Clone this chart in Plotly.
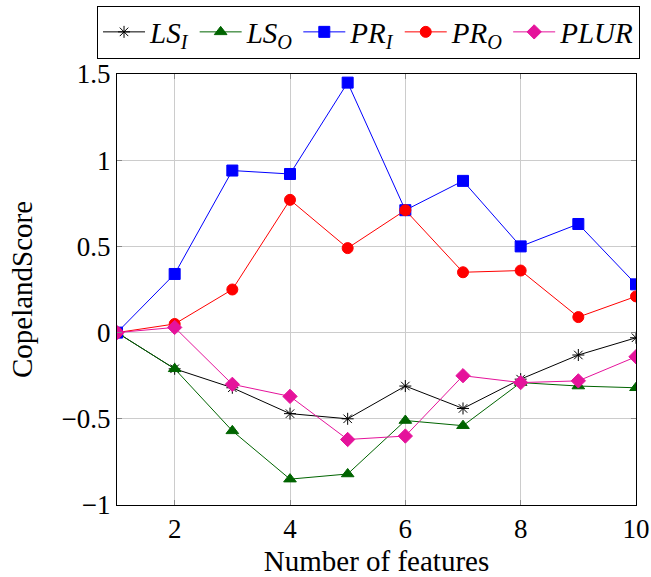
import plotly.graph_objects as go

x_features = [1, 2, 3, 4, 5, 6, 7, 8, 9, 10]
ls_i = [0, -0.21, -0.32, -0.47, -0.50, -0.31, -0.44, -0.27, -0.13, -0.03]
ls_o = [0, -0.21, -0.57, -0.85, -0.82, -0.51, -0.54, -0.29, -0.31, -0.32]
pr_i = [0, 0.34, 0.94, 0.92, 1.45, 0.71, 0.88, 0.50, 0.63, 0.28]
pr_o = [0, 0.05, 0.25, 0.77, 0.49, 0.71, 0.35, 0.36, 0.09, 0.21]
plur = [0, 0.03, -0.30, -0.37, -0.62, -0.60, -0.25, -0.29, -0.28, -0.14]

y_tickvals = [-1, -0.5, 0, 0.5, 1, 1.5]
y_ticktext = ["\u22121", "\u22120.5", "0", "0.5", "1", "1.5"]
x_tickvals = [2, 4, 6, 8, 10]

series = [
    ("<i>LS</i><sub><i>I</i></sub>", ls_i, "black", "asterisk-open", 10),
    ("<i>LS</i><sub><i>O</i></sub>", ls_o, "#006400", "triangle-up", 11),
    ("<i>PR</i><sub><i>I</i></sub>", pr_i, "blue", "square", 11),
    ("<i>PR</i><sub><i>O</i></sub>", pr_o, "red", "circle", 11),
    ("<i>PLUR</i>", plur, "#E5139B", "diamond", 11),
]

fig = go.Figure()
for name, ys, color, sym, size in series:
    fig.add_trace(go.Scatter(
        x=x_features, y=ys, name=name, mode="lines+markers",
        line=dict(color=color, width=1),
        marker=dict(symbol=sym, size=size, color=color, line=dict(color=color, width=1)),
    ))

font_family = "Liberation Serif, DejaVu Serif, serif"
fig.update_layout(
    width=651, height=577,
    margin=dict(l=117, r=15, t=74, b=72, autoexpand=False),
    paper_bgcolor="white", plot_bgcolor="white",
    font=dict(family=font_family, size=27, color="black"),
    legend=dict(
        orientation="h", x=-0.0385, xanchor="left", y=1.0974, yanchor="middle",
        bordercolor="black", borderwidth=1, bgcolor="white",
        font=dict(size=29, family=font_family),
        itemwidth=42, tracegroupgap=0,
    ),
    showlegend=True,
)
fig.update_xaxes(
    range=[1, 10], tickvals=x_tickvals, showgrid=True, gridcolor="#cccccc", gridwidth=1,
    zeroline=False, showline=True, linecolor="black", linewidth=1, mirror="ticks",
    ticks="inside", ticklen=5, tickcolor="#888888",
    title=dict(text="Number of features", font=dict(size=29), standoff=15),
    tickfont=dict(size=27),
)
fig.update_yaxes(
    range=[-1, 1.5], tickvals=y_tickvals, ticktext=y_ticktext, showgrid=True,
    gridcolor="#cccccc", gridwidth=1,
    zeroline=False, showline=True, linecolor="black", linewidth=1, mirror="ticks",
    ticks="inside", ticklen=5, tickcolor="#888888",
    title=dict(text="CopelandScore", font=dict(size=29), standoff=20),
    tickfont=dict(size=27),
)

# remove the default page margin so the figure fills the window exactly
fig.write_html(
    "out.html",
    config={"displayModeBar": False},
    post_script="document.body.style.margin='0';document.body.style.overflow='hidden';",
)
